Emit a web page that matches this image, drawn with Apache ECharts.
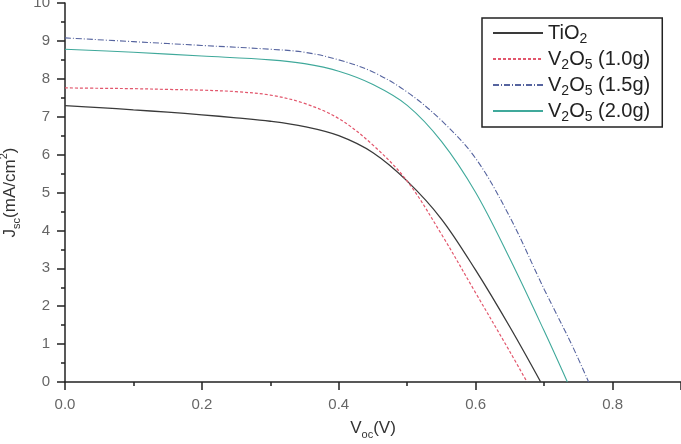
<!DOCTYPE html>
<html>
<head>
<meta charset="utf-8">
<script src="https://cdn.jsdelivr.net/npm/echarts@6/dist/echarts.min.js"></script>
<style>
html,body{margin:0;padding:0;background:#fff;}
#charts{width:681px;height:444px;}
</style>
</head>
<body>
<div id="charts"></div>
<script>
// J-V curves, values
var vTiO2 = [0, 0.05, 0.1, 0.15, 0.2, 0.25, 0.3, 0.35, 0.4, 0.45, 0.5, 0.55, 0.6, 0.65, 0.695];
var jTiO2 = [7.29, 7.24, 7.18, 7.12, 7.05, 6.97, 6.88, 6.74, 6.5, 6.05, 5.3, 4.3, 2.95, 1.45, 0];

var v10 = [0, 0.05, 0.1, 0.15, 0.2, 0.25, 0.3, 0.35, 0.4, 0.45, 0.5, 0.55, 0.6, 0.65, 0.675];
var j10 = [7.76, 7.75, 7.74, 7.72, 7.7, 7.66, 7.57, 7.35, 6.95, 6.25, 5.3, 3.9, 2.35, 0.8, 0];

var v15 = [0, 0.1, 0.2, 0.3, 0.35, 0.4, 0.45, 0.5, 0.55, 0.6, 0.65, 0.7, 0.74, 0.765];
var j15 = [9.08, 8.98, 8.88, 8.78, 8.7, 8.5, 8.18, 7.65, 6.9, 5.9, 4.35, 2.45, 1.0, 0];

var v20 = [0, 0.1, 0.2, 0.3, 0.35, 0.4, 0.45, 0.5, 0.55, 0.6, 0.65, 0.7, 0.734];
var j20 = [8.78, 8.7, 8.6, 8.5, 8.4, 8.2, 7.85, 7.3, 6.35, 5.0, 3.25, 1.35, 0];

var seriesNames = ['TiO2', 'V2O5 (1.0g)', 'V2O5 (1.5g)', 'V2O5 (2.0g)'];
var legendText = {
	'TiO2': '{b|TiO}{s|2}',
	'V2O5 (1.0g)': '{b|V}{s|2}{b|O}{s|5}{b| (1.0g)}',
	'V2O5 (1.5g)': '{b|V}{s|2}{b|O}{s|5}{b| (1.5g)}',
	'V2O5 (2.0g)': '{b|V}{s|2}{b|O}{s|5}{b| (2.0g)}'
};

var xMin = 0, xMax = 0.9, xStep = 0.2;
var yMin = 0, yMax = 10, yStep = 1;

var font = 'Liberation Sans, Arial, sans-serif';

function pairs(v, j){
	var out = [];
	for(var i=0;i<v.length;i++){
		out.push([v[i], j[i]]);
	}
	return out;
}

function line(name, v, j, color, width, type){
	return {
		name: name,
		type: 'line',
		data: pairs(v, j),
		symbol: 'none',
		smooth: 0.35,
		color: color,
		lineStyle: {color: color, width: width, type: type},
		z: 3
	};
}

var charts = echarts.init(document.getElementById('charts'));
var option = {
	animation: false,
	backgroundColor: '#fff',
	legend: {
		orient: 'vertical',
		left: 482,
		top: 18,
		padding: [5, 12, 3, 10],
		itemGap: 3,
		itemWidth: 50,
		itemHeight: 14,
		borderColor: '#222',
		borderWidth: 1.5,
		data: seriesNames,
		//只要线段，不要图例里的圆点
		itemStyle: {color: 'transparent', borderColor: 'transparent', borderWidth: 0, opacity: 0},
		formatter: function(name){ return legendText[name]; },
		textStyle: {
			rich: {
				b: {fontSize: 20, lineHeight: 26, color: '#222', fontFamily: font},
				s: {fontSize: 14, lineHeight: 6, verticalAlign: 'bottom', color: '#222', fontFamily: font}
			}
		}
	},
	grid: {left: 65, right: 0, top: 3, bottom: 62, outerBoundsMode: 'none', containLabel: false},
	xAxis: {
		type: 'value',
		min: xMin,
		max: xMax,
		interval: xStep,
		name: '{b|V}{s|oc}{b|(V)}',
		nameLocation: 'middle',
		nameGap: 34,
		nameTextStyle: {
			rich: {
				b: {fontSize: 17, lineHeight: 24, color: '#333', fontFamily: font},
				s: {fontSize: 11, lineHeight: 6, verticalAlign: 'bottom', color: '#333', fontFamily: font}
			}
		},
		axisLine: {lineStyle: {color: '#222', width: 1.5}},
		axisTick: {inside: false, length: 8, lineStyle: {color: '#222', width: 1.5}},
		minorTick: {show: true, splitNumber: 2, length: 4, lineStyle: {color: '#222', width: 1.5}},
		splitLine: {show: false},
		axisLabel: {
			margin: 15,
			fontSize: 15,
			color: '#666',
			fontFamily: font,
			showMaxLabel: false,
			formatter: function(v){ return v.toFixed(1); }
		}
	},
	yAxis: {
		type: 'value',
		min: yMin,
		max: yMax,
		interval: yStep,
		name: '{b|J}{s|sc}{b|(mA/cm}{p|2}{b|)}',
		nameLocation: 'middle',
		nameGap: 36,
		nameTextStyle: {
			rich: {
				b: {fontSize: 17, lineHeight: 24, color: '#333', fontFamily: font},
				s: {fontSize: 11, lineHeight: 6, verticalAlign: 'bottom', color: '#333', fontFamily: font},
				p: {fontSize: 11, lineHeight: 12, verticalAlign: 'top', color: '#333', fontFamily: font}
			}
		},
		axisLine: {lineStyle: {color: '#222', width: 1.5}},
		axisTick: {inside: false, length: 8, lineStyle: {color: '#222', width: 1.5}},
		minorTick: {show: true, splitNumber: 2, length: 4, lineStyle: {color: '#222', width: 1.5}},
		splitLine: {show: false},
		axisLabel: {margin: 15, fontSize: 15, color: '#666', fontFamily: font}
	},
	series: [
		line(seriesNames[0], vTiO2, jTiO2, '#3a3a3a', 1.3, 'solid'),
		line(seriesNames[1], v10, j10, '#e2566c', 1.2, [3, 2]),
		line(seriesNames[2], v15, j15, '#56649f', 1.1, [6, 2, 1, 2]),
		line(seriesNames[3], v20, j20, '#40a99b', 1.1, 'solid')
	]
};
charts.setOption(option);
</script>
</body>
</html>
